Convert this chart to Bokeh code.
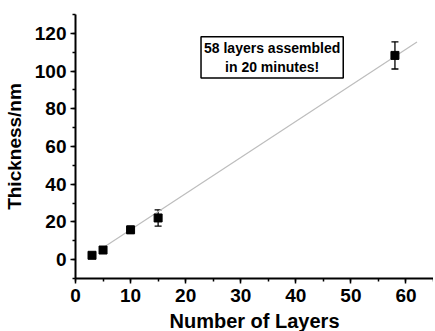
from bokeh.plotting import figure
from bokeh.models import Range1d, SingleIntervalTicker, Label, Whisker, ColumnDataSource
from bokeh.embed import file_html
from bokeh.resources import INLINE

# data
layers = [3, 5, 10, 15, 58]
thickness = [2.3, 5.1, 15.8, 22.1, 108.3]
error = [0.8, 1.0, 1.8, 4.3, 7.2]
fit_slope = 1.914
fit_intercept = -3.2
fit_x = [5, 62]
fit_y = [fit_slope * v + fit_intercept for v in fit_x]
note_text = "58 layers assembled\nin 20 minutes!"
note_pos = (35.7, 107.3)

FONT = "Liberation Sans"

p = figure(frame_width=358, frame_height=264, output_backend="svg", toolbar_location=None,
           x_range=Range1d(0, 65), y_range=Range1d(-10, 130),
           min_border_left=75, min_border_right=0, min_border_top=14, min_border_bottom=40)
p.outline_line_color = None
p.grid.visible = False
p.background_fill_color = "white"

p.xaxis.ticker = SingleIntervalTicker(interval=10, num_minor_ticks=2)
p.yaxis.ticker = SingleIntervalTicker(interval=20, num_minor_ticks=2)
for ax in (p.xaxis, p.yaxis):
    ax.axis_line_width = 2
    ax.axis_line_color = "black"
    ax.major_tick_line_width = 1.5
    ax.minor_tick_line_width = 1.5
    ax.major_tick_out = 5
    ax.major_tick_in = 0
    ax.minor_tick_out = 3
    ax.minor_tick_in = 0
    ax.major_label_text_font = FONT
    ax.major_label_text_font_style = "bold"
    ax.major_label_text_font_size = "19px"
    ax.major_label_text_color = "black"
    ax.axis_label_text_font = FONT
    ax.axis_label_text_font_style = "bold"
    ax.axis_label_text_color = "black"
p.xaxis.axis_label = "Number of Layers"
p.yaxis.axis_label = "Thickness/nm"
p.xaxis.axis_label_text_font_size = "20px"
p.yaxis.axis_label_text_font_size = "19px"
p.xaxis.major_label_standoff = 5
p.yaxis.major_label_standoff = 4
p.xaxis.axis_label_standoff = 5
p.yaxis.axis_label_standoff = 7

p.line(fit_x, fit_y, line_color="#bdbdbd", line_width=1.2)

src = ColumnDataSource(dict(x=layers, y=thickness,
                            lo=[t - e for t, e in zip(thickness, error)],
                            hi=[t + e for t, e in zip(thickness, error)]))
w = Whisker(source=src, base="x", lower="lo", upper="hi", line_color="black", line_width=1.3)
w.upper_head.size = 7
w.lower_head.size = 7
w.upper_head.line_width = 1.3
w.lower_head.line_width = 1.3
p.add_layout(w)
p.scatter("x", "y", source=src, marker="square", size=8, color="black")

lab = Label(x=note_pos[0], y=note_pos[1], text=note_text, text_align="center",
            text_baseline="middle", text_font=FONT, text_font_style="bold",
            text_font_size="14px", text_color="black", text_line_height=1.2,
            border_line_color="black", border_line_width=1.5,
            background_fill_color="white", padding=3)
p.add_layout(lab)

open("out.html", "w").write(file_html(p, INLINE))
